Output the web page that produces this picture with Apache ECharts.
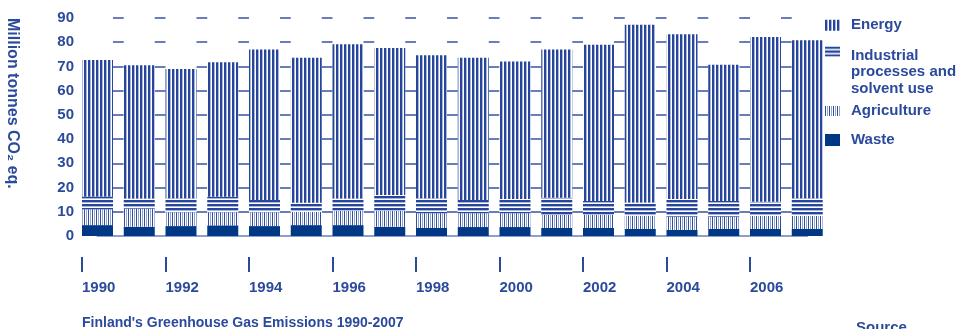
<!DOCTYPE html>
<html><head><meta charset="utf-8">
<script src="https://cdn.jsdelivr.net/npm/echarts@6/dist/echarts.min.js"></script>
<style>html,body{margin:0;padding:0;background:#fff}#c{width:961px;height:329px}</style>
</head><body><div id="c"></div>
<script>
// ---- data ----
const years = ['1990','1991','1992','1993','1994','1995','1996','1997','1998','1999','2000','2001','2002','2003','2004','2005','2006','2007'];
const energy      = [56.4,55.0,53.3,55.5,62.1,59.9,63.7,60.7,59.0,58.7,56.7,61.2,64.5,73.4,68.0,56.2,68.1,65.2];
const industrial  = [5.3,4.2,5.8,6.4,5.1,3.7,5.1,6.5,6.2,5.5,5.9,7.1,5.7,5.4,7.3,6.5,5.8,7.3];
const agriculture = [6.5,7.5,5.7,5.4,5.7,5.5,5.9,6.6,6.1,5.7,5.7,5.4,5.5,5.5,5.5,5.1,5.4,5.4];
const waste       = [4.5,3.8,4.1,4.4,4.1,4.5,4.5,3.8,3.3,3.7,3.7,3.3,3.3,2.9,2.5,2.9,2.9,2.9];
const xTickYears  = [1990,1992,1994,1996,1998,2000,2002,2004,2006];
const yMin = 0, yMax = 90, yStep = 10;
const seriesNames = ['Energy','Industrial processes and solvent use','Agriculture','Waste'];
const industrialLines = ['Industrial','processes and','solvent use'];
const titleText = "Finland's Greenhouse Gas Emissions 1990-2007";
const yName = 'Million tonnes CO\u2082 eq.';
const sourceText = 'Source';

// ---- styles ----
const FONT = '"Liberation Sans", Arial, Helvetica, sans-serif';
const TXT = '#2b4a9b';
const DARK = '#26459b';
const WASTE = '#003886';
function pattern(w, h, cells) {
  const c = document.createElement('canvas');
  c.width = w; c.height = h;
  const ctx = c.getContext('2d');
  cells.forEach(([x, y, cw, ch, col]) => { ctx.fillStyle = col; ctx.fillRect(x, y, cw, ch); });
  return { image: c, repeat: 'repeat' };
}
const energyPat = pattern(4, 1, [[0,0,4,1,'#ffffff'],[0,0,2,1,DARK],[2,0,1,1,'#aab7dc']]);
const industPat = pattern(1, 4, [[0,0,1,4,'#ffffff'],[0,0,1,2,DARK],[0,2,1,1,'#aab7dc']]);
const agriPat   = pattern(4, 1, [[0,0,4,1,'#ffffff'],[0,0,1,1,'#2f4ea0'],[2,0,1,1,'#93a4d2']]);

// layout: bar centres 1990..2007 span the main grid; 31px bars, 41.75px pitch
const BAR = 31, PITCH = 41.75, X0 = 97.5;
const XEND = X0 + PITCH * (years.length - 1);
const half = (BAR / 2) / PITCH;
const GAP = PITCH - BAR;

function bar(name, arr, color) {
  return {
    name, type: 'bar', stack: 'total', xAxisIndex: 0, yAxisIndex: 0,
    barWidth: BAR, data: arr, itemStyle: { color },
    emphasis: { disabled: true }, silent: true
  };
}

const legendText = { color: TXT, fontFamily: FONT, fontWeight: 'bold', fontSize: 15, lineHeight: 16.5 };
function leg(name, top, h, extra) {
  return Object.assign({
    data: [name], left: 825, top, padding: 0, orient: 'vertical', icon: 'rect',
    itemWidth: 15, itemHeight: h, selectedMode: false,
    textStyle: Object.assign({}, legendText, { padding: [0, 0, 0, 6] })
  }, extra || {});
}

const chart = echarts.init(document.getElementById('c'), null, { renderer: 'canvas' });
chart.setOption({
  animation: false,
  backgroundColor: '#ffffff',
  textStyle: { fontFamily: FONT },
  title: [
    { text: titleText, left: 82, top: 316, padding: 0,
      textStyle: { color: TXT, fontFamily: FONT, fontWeight: 'bold', fontSize: 14 } },
    { text: sourceText, left: 856, top: 320, padding: 0,
      textStyle: { color: TXT, fontFamily: FONT, fontWeight: 'bold', fontSize: 15 } }
  ],
  grid: [
    { left: X0, top: 18, right: 961 - XEND, bottom: 93, containLabel: false },
    { left: X0 - BAR / 2, top: 256, right: 961 - XEND - BAR / 2, height: 1, containLabel: false }
  ],
  xAxis: [
    { type: 'category', data: years, boundaryGap: false, gridIndex: 0, position: 'bottom', z: 1,
      axisLine: { show: true, lineStyle: { color: '#8e9ecd', width: 2 } },
      axisTick: { show: false }, axisLabel: { show: false }, splitLine: { show: false } },
    { type: 'value', gridIndex: 1, min: +years[0], max: +years[years.length - 1] + 2 * half, position: 'bottom', offset: 0,
      axisLine: { show: false },
      axisTick: { show: true, length: 15, customValues: xTickYears, lineStyle: { color: TXT, width: 2 } },
      axisLabel: { show: true, customValues: xTickYears, align: 'left', margin: 23, verticalAlign: 'top',
        color: TXT, fontFamily: FONT, fontWeight: 'bold', fontSize: 15, formatter: v => String(v) },
      splitLine: { show: false } }
  ],
  yAxis: [
    { type: 'value', gridIndex: 0, min: yMin, max: yMax, interval: yStep,
      axisLine: { show: false }, axisTick: { show: false },
      axisLabel: { color: TXT, fontFamily: FONT, fontWeight: 'bold', fontSize: 15, margin: X0 - 74 },
      splitLine: { show: true, lineStyle: { color: '#3753a3', width: 1.5,
        type: [GAP, BAR], dashOffset: GAP + BAR / 2 } } },
    { type: 'value', gridIndex: 1, show: false, min: 0, max: 1 }
  ],
  legend: [
    leg(seriesNames[0], 17, 11),
    leg(seriesNames[1], 6.25, 10, {
      formatter: () => '{s| }\n' + industrialLines.map(l => '{a|' + l + '}').join('\n'),
      textStyle: Object.assign({}, legendText, { padding: [0, 0, 0, 6],
        rich: { s: { lineHeight: 41, fontSize: 10 }, a: Object.assign({}, legendText) } }) }),
    leg(seriesNames[2], 102.75, 10),
    leg(seriesNames[3], 131.75, 12)
  ],
  graphic: [
    { type: 'text', x: 12, y: 18, rotation: -Math.PI / 2, silent: true,
      style: { text: yName, fill: TXT, font: 'bold 16px ' + FONT, align: 'left', verticalAlign: 'middle' } }
  ],
  series: [
    bar(seriesNames[3], waste, WASTE),
    bar(seriesNames[2], agriculture, agriPat),
    bar(seriesNames[1], industrial, industPat),
    bar(seriesNames[0], energy, energyPat)
  ]
});
</script></body></html>
